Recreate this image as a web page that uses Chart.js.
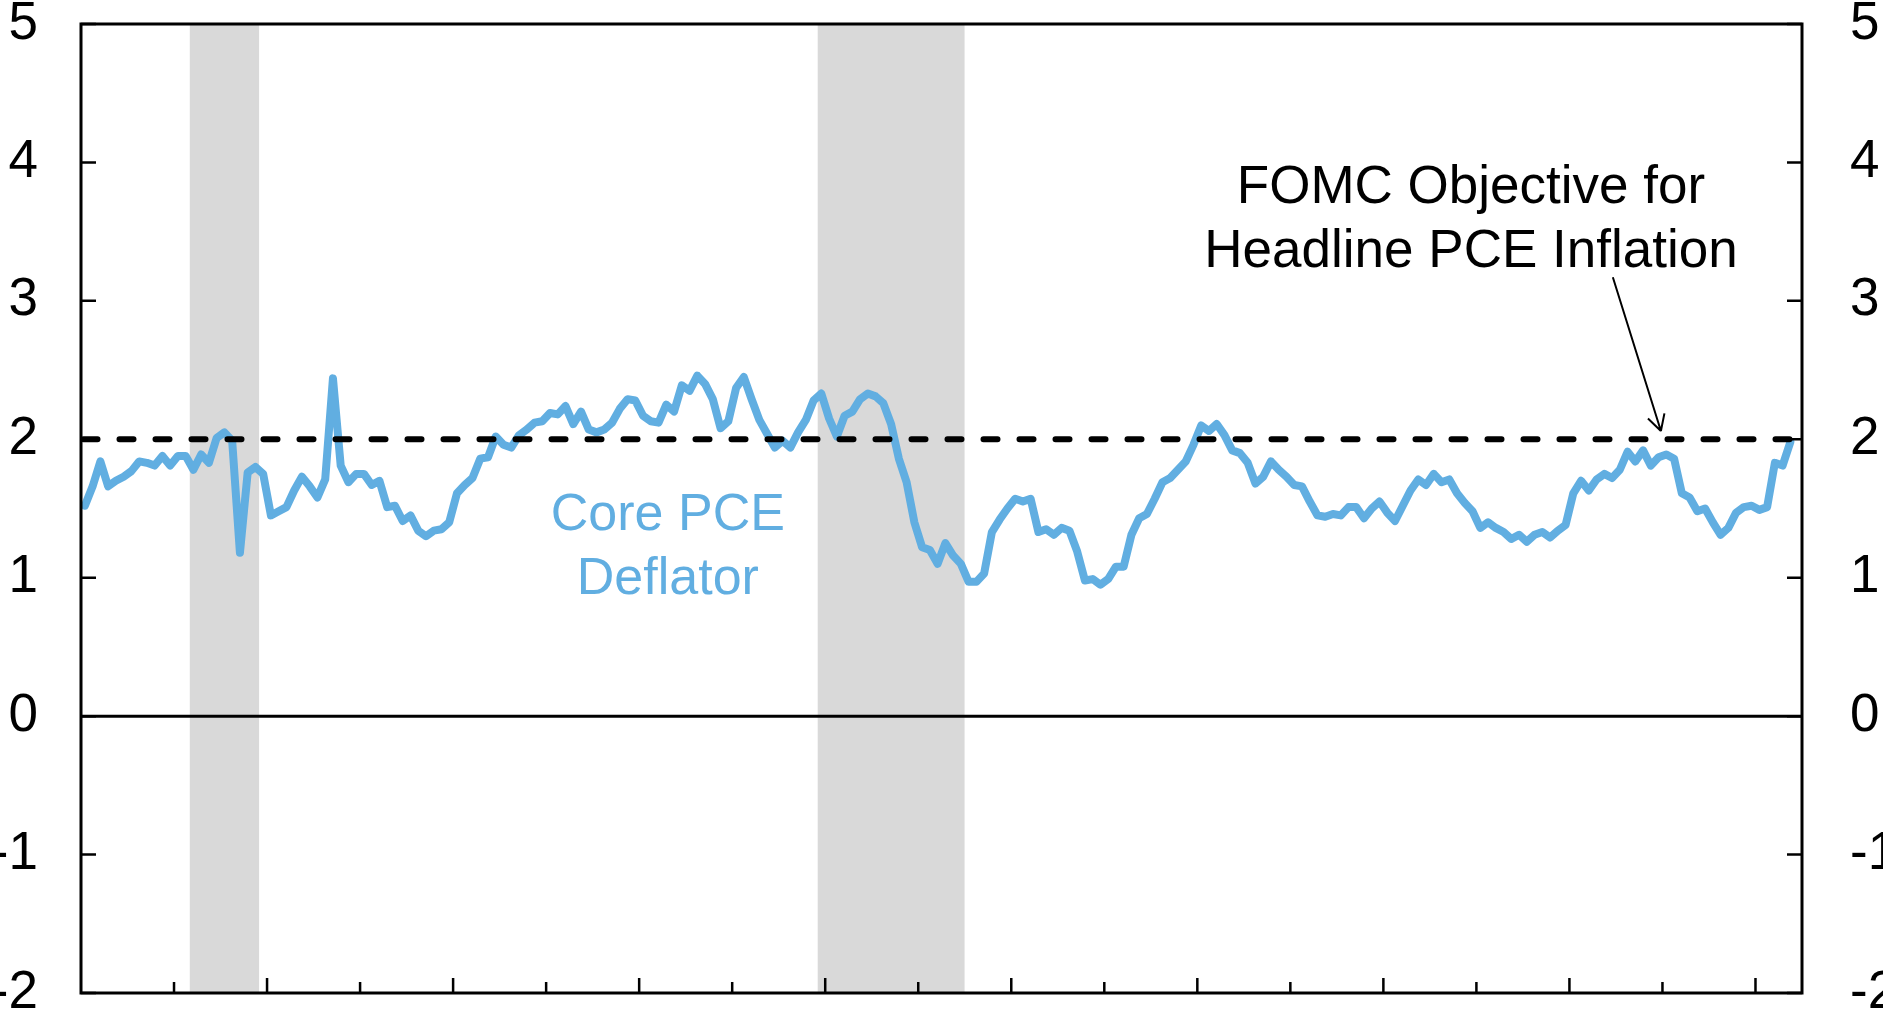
<!DOCTYPE html>
<html>
<head>
<meta charset="utf-8">
<script src="https://cdn.jsdelivr.net/npm/chart.js@4/dist/chart.umd.min.js"></script>
<style>
  html, body { margin: 0; padding: 0; background: #fff; overflow: hidden; }
  #wrap { width: 1883px; height: 1009px; position: relative; }
</style>
</head>
<body>
<div id="wrap"><canvas id="chart"></canvas></div>
<script>
// monthly axis, Jan 2000 through Jun 2018 (data ends May 2018)
const FIRST_YEAR = 2000;
const MONTHS_ON_AXIS = 222;

// core PCE deflator, 12-month % change
const corePce = [
  1.52, 1.66, 1.84, 1.66, 1.70, 1.73, 1.77, 1.84, 1.83, 1.81,
  1.88, 1.81, 1.88, 1.88, 1.78, 1.89, 1.83, 2.01, 2.05, 1.99,
  1.18, 1.76, 1.80, 1.75, 1.45, 1.48, 1.51, 1.63, 1.73, 1.66,
  1.58, 1.71, 2.44, 1.81, 1.69, 1.75, 1.75, 1.67, 1.70, 1.51,
  1.52, 1.41, 1.45, 1.34, 1.30, 1.34, 1.35, 1.40, 1.61, 1.67,
  1.72, 1.86, 1.87, 2.02, 1.96, 1.94, 2.03, 2.07, 2.12, 2.13,
  2.19, 2.18, 2.24, 2.11, 2.20, 2.07, 2.05, 2.07, 2.12, 2.22,
  2.29, 2.28, 2.17, 2.13, 2.12, 2.25, 2.20, 2.39, 2.35, 2.46,
  2.40, 2.29, 2.08, 2.13, 2.37, 2.45, 2.29, 2.14, 2.04, 1.94,
  1.99, 1.94, 2.05, 2.14, 2.28, 2.33, 2.15, 2.02, 2.17, 2.20,
  2.29, 2.33, 2.31, 2.26, 2.11, 1.86, 1.69, 1.40, 1.22, 1.20,
  1.10, 1.25, 1.16, 1.10, 0.97, 0.97, 1.03, 1.33, 1.42, 1.50,
  1.57, 1.55, 1.57, 1.33, 1.35, 1.31, 1.36, 1.34, 1.19, 0.98,
  0.99, 0.95, 0.99, 1.08, 1.08, 1.31, 1.43, 1.46, 1.57, 1.69,
  1.72, 1.78, 1.84, 1.96, 2.10, 2.06, 2.11, 2.03, 1.92, 1.90,
  1.83, 1.68, 1.73, 1.84, 1.78, 1.73, 1.67, 1.66, 1.55, 1.45,
  1.44, 1.46, 1.45, 1.51, 1.51, 1.43, 1.50, 1.55, 1.47, 1.41,
  1.52, 1.63, 1.71, 1.67, 1.75, 1.69, 1.71, 1.61, 1.54, 1.48,
  1.36, 1.40, 1.36, 1.33, 1.28, 1.31, 1.26, 1.31, 1.33, 1.29,
  1.34, 1.38, 1.61, 1.70, 1.63, 1.71, 1.75, 1.72, 1.78, 1.91,
  1.84, 1.92, 1.81, 1.87, 1.89, 1.86, 1.61, 1.58, 1.48, 1.50,
  1.40, 1.31, 1.36, 1.47, 1.51, 1.52, 1.49, 1.51, 1.83, 1.81,
  1.98
];

const recessions = [["2001-03", "2001-11"], ["2007-12", "2009-06"]];
const fomcTarget = 2;
const yTicks = [-2, -1, 0, 1, 2, 3, 4, 5];

const BLUE = "#61AEE1";
const FONT = '"Liberation Sans", Arial, sans-serif';

const months = [];
for (let i = 0; i < MONTHS_ON_AXIS; i++) {
  const yr = FIRST_YEAR + Math.floor(i / 12);
  months.push(`${yr}-${String(i % 12 + 1).padStart(2, "0")}`);
}
const yMin = yTicks[0], yMax = yTicks[yTicks.length - 1];
// month-index axis edges (half a month past the first and last category)
const xLo = -0.5, xHi = MONTHS_ON_AXIS - 0.5;

// annotations, placed in data space: [month index, value]
const notes = [
  { lines: ["Core PCE", "Deflator"], at: [75.2, 1.345], size: 52, color: BLUE },
  { lines: ["FOMC Objective for", "Headline PCE Inflation"], at: [178.8, 3.707], size: 53, color: "#000" }
];
const arrow = { from: [197.1, 3.17], to: [203.3, 2.06] };

function flatLine(label, value, color, width, extra) {
  return Object.assign({
    label,
    xAxisID: "xr",
    data: [{ x: xLo, y: value }, { x: xHi, y: value }],
    borderColor: color,
    borderWidth: width,
    pointRadius: 0
  }, extra);
}

function recessionBand([a, b]) {
  const from = months.indexOf(a) - 0.5, to = months.indexOf(b) + 0.5;
  return {
    label: "Recession",
    xAxisID: "xr",
    data: [{ x: from, y: yMax }, { x: to, y: yMax }],
    borderWidth: 0,
    pointRadius: 0,
    backgroundColor: "#D9D9D9",
    fill: "start",
    order: 3
  };
}

const decor = {
  id: "decor",
  afterDatasetsDraw(chart) {
    const { ctx, chartArea: a, scales: { x, y } } = chart;
    ctx.save();
    ctx.strokeStyle = "#000";
    ctx.lineWidth = 3;
    ctx.strokeRect(a.left, a.top, a.right - a.left, a.bottom - a.top);
    ctx.lineWidth = 2.5;
    ctx.beginPath();
    yTicks.forEach((v) => {
      const py = y.getPixelForValue(v);
      ctx.moveTo(a.left, py); ctx.lineTo(a.left + 15, py);
      ctx.moveTo(a.right - 15, py); ctx.lineTo(a.right, py);
    });
    months.forEach((m, i) => {
      if (i === 0 || !m.endsWith("-01")) return;
      const px = (x.getPixelForValue(i - 1) + x.getPixelForValue(i)) / 2;
      const len = Number(m.slice(0, 4)) % 2 === 0 ? 15 : 11;
      ctx.moveTo(px, a.bottom); ctx.lineTo(px, a.bottom - len);
    });
    ctx.stroke();

    ctx.textAlign = "center";
    ctx.textBaseline = "alphabetic";
    notes.forEach((n) => {
      const px = x.getPixelForValue(n.at[0]);
      const py = y.getPixelForValue(n.at[1]);
      ctx.font = `${n.size}px ${FONT}`;
      ctx.fillStyle = n.color;
      n.lines.forEach((line, k) => ctx.fillText(line, px, py + k * 64));
    });

    const x0 = x.getPixelForValue(arrow.from[0]), y0 = y.getPixelForValue(arrow.from[1]);
    const x1 = x.getPixelForValue(arrow.to[0]), y1 = y.getPixelForValue(arrow.to[1]);
    const ang = Math.atan2(y1 - y0, x1 - x0);
    ctx.lineWidth = 2;
    ctx.beginPath();
    ctx.moveTo(x0, y0); ctx.lineTo(x1, y1);
    [0.5, -0.5].forEach((d) => {
      ctx.moveTo(x1, y1);
      ctx.lineTo(x1 - 18 * Math.cos(ang + d), y1 - 18 * Math.sin(ang + d));
    });
    ctx.stroke();
    ctx.restore();
  }
};

function sideAxis(position, padding) {
  return {
    type: "linear",
    position,
    min: yMin,
    max: yMax,
    afterBuildTicks: (scale) => { scale.ticks = yTicks.map((v) => ({ value: v })); },
    afterFit: (scale) => { scale.width = 81; scale.paddingTop = 0; scale.paddingBottom = 0; },
    grid: { display: false, drawTicks: false },
    border: { display: false },
    ticks: { color: "#000", padding, font: { family: FONT, size: 53 } }
  };
}

new Chart(document.getElementById("chart"), {
  type: "line",
  data: {
    labels: months,
    datasets: [
      {
        label: "Core PCE Deflator",
        data: corePce,
        borderColor: BLUE,
        borderWidth: 8,
        borderJoinStyle: "round",
        borderCapStyle: "round",
        pointRadius: 0,
        tension: 0,
        order: 1
      },
      flatLine("FOMC Objective", fomcTarget, "#000", 6,
        { borderDash: [14, 22], borderDashOffset: -2.5, borderCapStyle: "round", order: 0 }),
      flatLine("zero", 0, "#000", 3, { order: 2 }),
      ...recessions.map(recessionBand)
    ]
  },
  options: {
    responsive: true,
    maintainAspectRatio: false,
    animation: false,
    layout: { padding: { top: 24, bottom: 16, left: 0, right: 0 } },
    plugins: { legend: { display: false }, tooltip: { enabled: false }, filler: { propagate: false } },
    scales: {
      x: { type: "category", offset: true, display: false },
      xr: { type: "linear", min: xLo, max: xHi, display: false },
      y: sideAxis("left", 43),
      y2: sideAxis("right", 48)
    }
  },
  plugins: [decor]
});
</script>
</body>
</html>
